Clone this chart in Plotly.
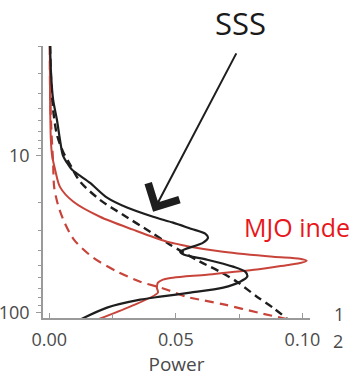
import math
import plotly.graph_objects as go

# Power spectra plotted against period (days), period axis on a reversed log scale.
# SSS spectrum (solid black) and its red-noise background (dashed black)
sss_power = [0.0003, 0.0007, 0.0015, 0.0030, 0.0042, 0.0054, 0.0070, 0.0090, 0.0121,
             0.0161, 0.0228, 0.0307, 0.0410, 0.0489, 0.0559, 0.0616, 0.0627, 0.0608,
             0.0517, 0.0533, 0.0624, 0.0726, 0.0774, 0.0782, 0.0754, 0.0687, 0.0557,
             0.0438, 0.0359, 0.0228, 0.0122]
sss_period = [1.99, 3.05, 4.40, 5.90, 7.91, 10.0, 11.1, 12.3, 13.4,
              14.9, 18.5, 21.4, 24.5, 26.7, 29.2, 31.4, 33.3, 35.8,
              40.9, 42.7, 46.0, 50.9, 54.8, 59.0, 63.5, 69.3, 74.6,
              79.1, 82.7, 92.9, 110.8]

sss_bg_power = [0.0003, 0.0007, 0.0015, 0.0030, 0.0054, 0.0082, 0.0121, 0.0200, 0.0291,
                0.0398, 0.0477, 0.0595, 0.0674, 0.0741, 0.0820, 0.0883, 0.0939]
sss_bg_period = [1.99, 3.28, 5.09, 7.35, 9.43, 11.4, 14.6, 19.1, 23.8,
                 30.5, 36.9, 47.3, 54.8, 63.5, 79.1, 92.9, 109.3]

# MJO index spectrum (solid red) and its red-noise background (dashed red)
mjo_power = [0.0002, 0.0003, 0.0006, 0.0011, 0.0023, 0.0042, 0.0094, 0.0200, 0.0331,
             0.0465, 0.0556, 0.0686, 0.0884, 0.0990, 0.1017, 0.0982, 0.0950, 0.0820,
             0.0622, 0.0489, 0.0449, 0.0429, 0.0425, 0.0429, 0.0319, 0.0189]
mjo_period = [1.99, 4.40, 7.91, 10.0, 12.3, 15.8, 19.6, 24.5, 29.6,
              35.3, 38.0, 40.9, 44.0, 45.3, 46.7, 48.7, 49.5, 53.2,
              57.3, 59.9, 61.6, 64.4, 69.3, 74.6, 91.6, 110.8]

mjo_bg_power = [0.0002, 0.0003, 0.0008, 0.0015, 0.0019, 0.0034, 0.0058, 0.0098, 0.0173,
                0.0268, 0.0359, 0.0425, 0.0465, 0.0540, 0.0615, 0.0694, 0.0825, 0.0948]
mjo_bg_period = [1.99, 3.80, 6.83, 11.1, 15.8, 20.5, 26.2, 34.4, 44.6,
                 54.8, 63.5, 68.3, 71.4, 79.1, 83.9, 89.0, 100.0, 110.8]

x_tick_vals = [0.0, 0.05, 0.10]
x_tick_text = ["0.00", "0.05", "0.10"]
x_minor_vals = [0.025, 0.075]
y_tick_vals = [10, 100]
y_tick_text = ["10", "100"]
y_minor_vals = [2, 3, 4, 5, 6, 7, 8, 9, 20, 30, 40, 50, 60, 70, 80, 90]

BLACK = "#1e1e1e"
RED = "#c8443a"
AXIS = "#9a9a9a"
TEXT = "#4a4a4a"

fig = go.Figure()

fig.add_trace(go.Scatter(x=mjo_bg_power, y=mjo_bg_period, mode="lines",
                         line=dict(color=RED, width=2.2, dash="9px,6px", shape="spline", smoothing=0.8)))
fig.add_trace(go.Scatter(x=sss_bg_power, y=sss_bg_period, mode="lines",
                         line=dict(color=BLACK, width=2.4, dash="8px,5px", shape="spline", smoothing=0.8)))
fig.add_trace(go.Scatter(x=mjo_power, y=mjo_period, mode="lines",
                         line=dict(color=RED, width=2.0, shape="spline", smoothing=0.8)))
fig.add_trace(go.Scatter(x=sss_power, y=sss_period, mode="lines",
                         line=dict(color=BLACK, width=2.2, shape="spline", smoothing=0.8)))

fig.update_layout(
    template="none",
    width=349, height=389, autosize=False,
    margin=dict(l=43, r=39, t=46, b=71, pad=0),
    paper_bgcolor="white", plot_bgcolor="white",
    showlegend=False,
    font=dict(family="Open Sans", color=TEXT, size=18),
)

fig.update_xaxes(
    range=[-0.0025, 0.103], automargin=False,
    showline=True, linecolor=AXIS, linewidth=1.5, mirror=False,
    showgrid=False, zeroline=False,
    tickmode="array", tickvals=x_tick_vals, ticktext=x_tick_text,
    ticks="inside", ticklen=5, tickwidth=1, tickcolor=AXIS,
    minor=dict(tickmode="array", tickvals=x_minor_vals, ticks="inside", ticklen=4,
               tickwidth=1, tickcolor=AXIS, showgrid=False),
    ticklabelstandoff=5,
    tickfont=dict(size=18, color=TEXT),
    title=dict(text="Power", font=dict(size=19, color=TEXT), standoff=0),
)

fig.update_yaxes(
    type="log", range=[math.log10(108.2), math.log10(2.0)], automargin=False,
    showline=True, linecolor=AXIS, linewidth=1.5, mirror=False,
    showgrid=False, zeroline=False,
    tickmode="array", tickvals=y_tick_vals, ticktext=y_tick_text,
    ticks="outside", ticklen=5, tickwidth=1, tickcolor=AXIS,
    minor=dict(tickmode="array", tickvals=y_minor_vals, ticks="outside", ticklen=3,
               tickwidth=1, tickcolor=AXIS, showgrid=False),
    ticklabelstandoff=3,
    tickfont=dict(size=18, color=TEXT),
)

# Arrow pointing at the SSS spectrum
fig.add_annotation(x=0.0410, y=math.log10(22.8), xref="x", yref="y", text="",
                   showarrow=True, arrowhead=4, arrowsize=3.4, arrowwidth=2,
                   arrowcolor=BLACK, ax=84, ay=-160, standoff=0)
fig.add_annotation(x=0.738, y=1.083, xref="paper", yref="paper", text="SSS",
                   showarrow=False, xanchor="center", yanchor="middle",
                   font=dict(family="Open Sans", size=31, color="#1a1a1a"))
fig.add_annotation(x=0.745, y=0.333, xref="paper", yref="paper", text="MJO inde",
                   showarrow=False, xanchor="left", yanchor="middle",
                   font=dict(family="Open Sans", size=25, color="#e8161b"))
# Edge of the neighbouring panel's labels
fig.add_annotation(x=1.136, y=0.015, xref="paper", yref="paper", text="1",
                   showarrow=False, xanchor="right", yanchor="middle",
                   font=dict(family="Open Sans", size=18, color=TEXT))
fig.add_annotation(x=1.08, y=-0.083, xref="paper", yref="paper", text="2",
                   showarrow=False, xanchor="left", yanchor="middle",
                   font=dict(family="Open Sans", size=18, color=TEXT))

fig.write_html("out.html")
